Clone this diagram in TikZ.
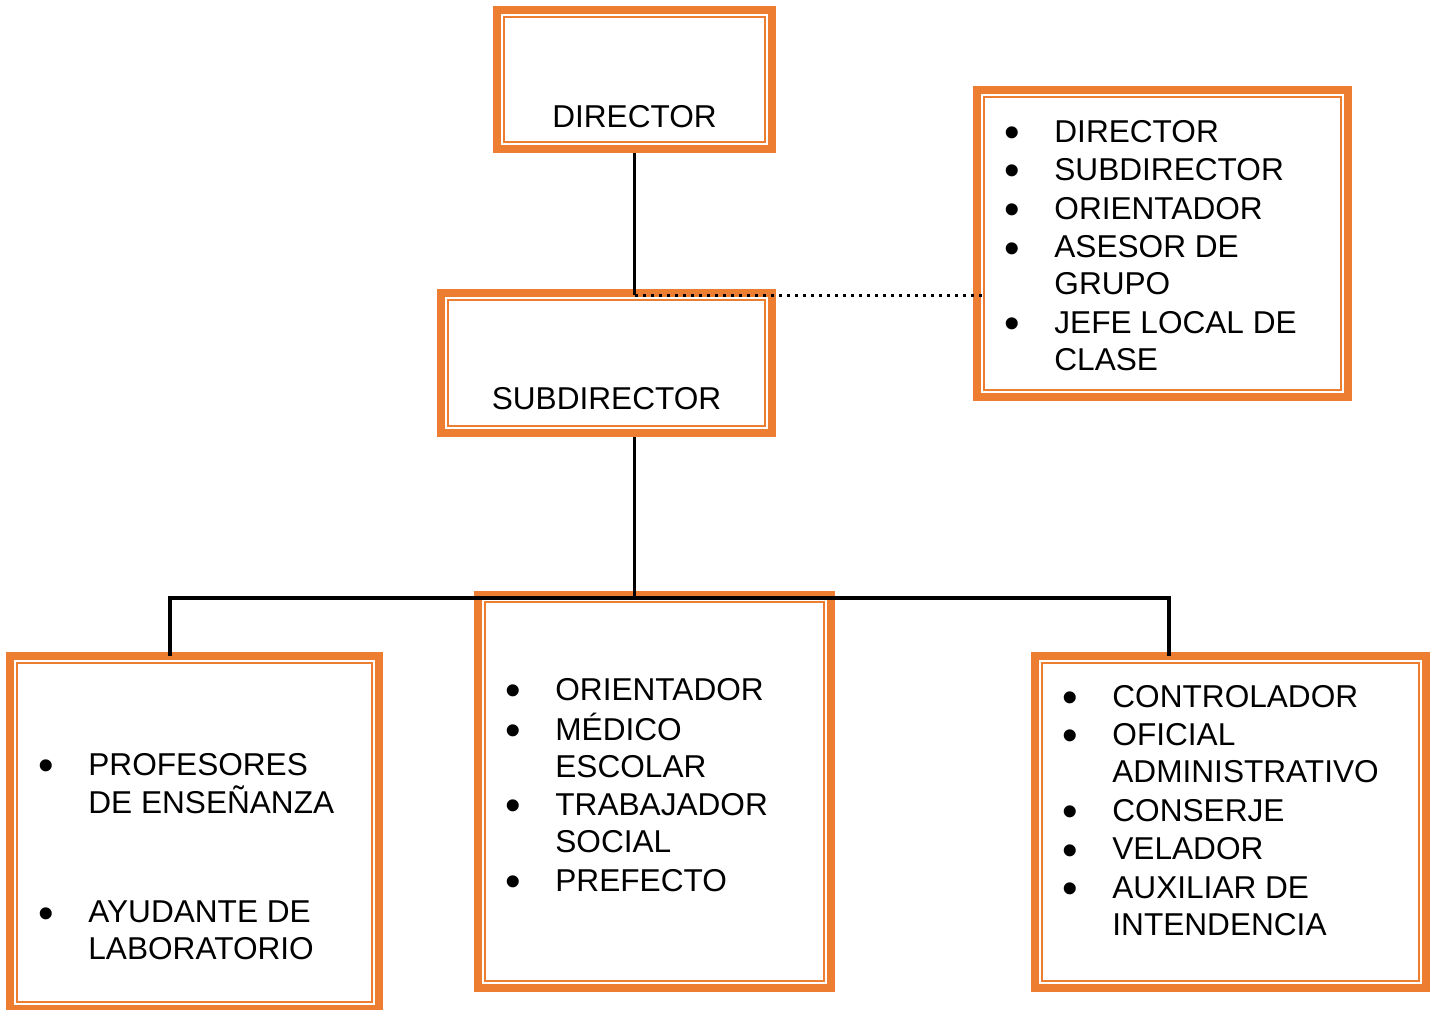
\documentclass[tikz,border=0pt]{standalone}
\usepackage{fontspec}
\setmainfont{Liberation Sans}
\usepackage{xcolor}
\usepackage{graphicx}
\usetikzlibrary{fit}

\definecolor{boxorange}{HTML}{ED7D31}
\newcommand{\bul}{\makebox[23.75pt][l]{\hspace*{-1pt}\smash{\raisebox{-2.6pt}{\scalebox{1.4}{•}}}}}

\tikzset{
  orgbox/.style={draw=boxorange, line width=4pt, inner sep=0pt, outer sep=0pt},
  innerline/.style={draw=boxorange, line width=1pt},
  link/.style={draw=black, line width=1.6pt},
  dotlink/.style={draw=black, line width=1.5pt, dash pattern=on 1.5pt off 2.5pt},
  titletext/.style={anchor=base, inner sep=0pt, font=\fontsize{15.8}{18.5}\selectfont},
  listtext/.style={anchor=base west, inner sep=0pt, font=\fontsize{15.8}{18.5}\selectfont}
}

\begin{document}
\begin{tikzpicture}[x=0.5pt, y={(0pt,-0.5pt)}]
    \def\gap{0.8pt}
    \useasboundingbox[fill=white] (0,0) rectangle (1434,1009);

    % Boxes
    \node[orgbox, fit={(497,10) (772,149)}] (dir) {};
    \node[orgbox, fit={(441,293) (772,433)}] (sub) {};
    \node[orgbox, fit={(977,90) (1348,397)}] (func) {};
    \node[orgbox, fit={(10,656) (379,1009)}] (prof) {};
    \node[orgbox, fit={(478,595) (831,988)}] (apoyo) {};
    \node[orgbox, fit={(1035,656) (1426,988)}] (serv) {};

    % Inner thin frames
    \foreach \n in {dir,sub,func,prof,apoyo,serv}
        \draw[innerline] ([shift={(3.5pt,-3.5pt)}]\n.north west) rectangle ([shift={(-3.5pt,3.5pt)}]\n.south east);

    % Titles
    \node[titletext] (dirtxt) at (634.5,127) {DIRECTOR};
    \node[titletext] (subtxt) at (606.5,409) {SUBDIRECTOR};

    % Lists
    \node[listtext] (functxt) at (1006.5,142) {\begin{tabular}[t]{@{}l@{}l@{}}
        \bul & DIRECTOR\\[\gap]
        \bul & SUBDIRECTOR\\[\gap]
        \bul & ORIENTADOR\\[\gap]
        \bul & ASESOR DE\\
             & GRUPO\\[\gap]
        \bul & JEFE LOCAL DE\\
             & CLASE
    \end{tabular}};

    \node[listtext] (proftxt) at (40.5,775) {\begin{tabular}[t]{@{}l@{}l@{}}
        \bul & PROFESORES\\
             & DE ENSEÑANZA\\
             & \\[-1pt]
             & \\
        \bul & AYUDANTE DE\\
             & LABORATORIO
    \end{tabular}};

    \node[listtext] (apoyotxt) at (507.5,700) {\begin{tabular}[t]{@{}l@{}l@{}}
        \bul & ORIENTADOR\\[\gap]
        \bul & MÉDICO\\
             & ESCOLAR\\[\gap]
        \bul & TRABAJADOR\\
             & SOCIAL\\[\gap]
        \bul & PREFECTO
    \end{tabular}};

    \node[listtext] (servtxt) at (1064.5,707) {\begin{tabular}[t]{@{}l@{}l@{}}
        \bul & CONTROLADOR\\[\gap]
        \bul & OFICIAL\\
             & ADMINISTRATIVO\\[\gap]
        \bul & CONSERJE\\[\gap]
        \bul & VELADOR\\[\gap]
        \bul & AUXILIAR DE\\
             & INTENDENCIA
    \end{tabular}};

    % Connectors
    \coordinate (tap) at (dir.south |- sub.north);
    \coordinate (busL) at (170,598);
    \coordinate (busR) at (1169,598);
    \coordinate (busM) at (tap |- busL);

    \draw[link, shorten <=2pt, shorten >=-1pt] (dir.south) -- (tap);
    \draw[dotlink, shorten >=-3.5pt] ([yshift=-1pt]tap) -- ([yshift=-1pt]tap -| func.west);
    \draw[link, shorten <=2pt] (tap |- sub.south) -- (busM);
    \draw[link, line cap=rect] (busL) -- (busR);
    \draw[link] (busL) -- (busL |- prof.north);
    \draw[link] (busR) -- (busR |- serv.north);
\end{tikzpicture}
\end{document}
